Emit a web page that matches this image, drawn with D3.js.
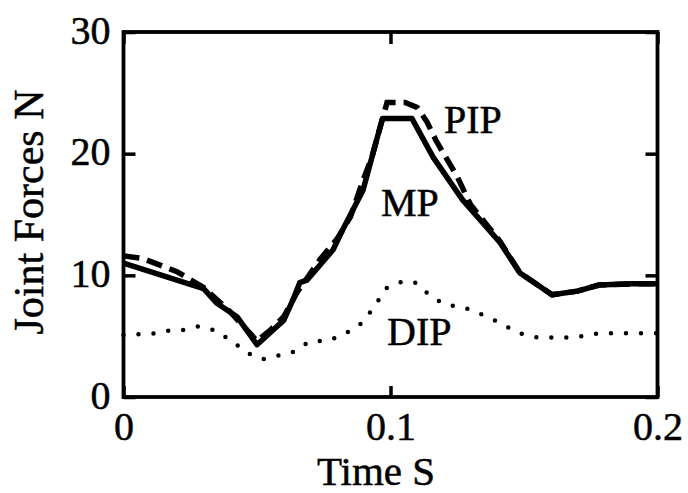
<!DOCTYPE html>
<html>
<head>
<meta charset="utf-8">
<script src="https://cdn.jsdelivr.net/npm/d3@7/dist/d3.min.js"></script>
<style>
  body { margin: 0; background: #fff; }
  svg { display: block; font-family: "Liberation Serif", "Times New Roman", serif; }
  text { stroke: #000; stroke-width: 0.5px; }
</style>
</head>
<body>
<div id="chart"></div>
<script>
const WIDTH = 688, HEIGHT = 493;
const margin = {top: 32, right: 30.5, bottom: 96, left: 123.5};

// MP joint force (solid)
const mpTime  = [0, 0.01, 0.02, 0.03, 0.035, 0.0425, 0.05, 0.055, 0.06, 0.0635, 0.066, 0.0687, 0.0785, 0.082, 0.0897, 0.097, 0.108, 0.116, 0.127, 0.141, 0.1485, 0.1605, 0.17, 0.178, 0.19, 0.2];
const mpForce = [11.0, 10.3, 9.6, 8.9, 7.7, 6.6, 4.3, 5.3, 6.3, 8.0, 9.4, 9.6, 12.1, 13.7, 17.0, 22.9, 22.9, 19.7, 16.2, 12.7, 10.2, 8.4, 8.7, 9.2, 9.3, 9.3];

// PIP joint force (dashed)
const pipTime  = [0, 0.007, 0.02, 0.03, 0.04, 0.05, 0.055, 0.06, 0.065, 0.0736, 0.08, 0.085, 0.0897, 0.093, 0.0987, 0.1055, 0.11, 0.1137, 0.117, 0.125, 0.13, 0.141, 0.1485, 0.1605, 0.17, 0.178, 0.19, 0.2];
const pipForce = [11.6, 11.4, 10.3, 9.0, 7.0, 4.6, 5.5, 6.6, 8.6, 11.3, 13.0, 14.8, 17.8, 19.7, 24.2, 24.2, 23.8, 22.6, 21.1, 18.1, 15.8, 12.8, 10.2, 8.4, 8.7, 9.2, 9.3, 9.3];

// DIP joint force (dotted)
const dipTime  = [0, 0.011, 0.017, 0.022, 0.028, 0.034, 0.041, 0.046, 0.052, 0.057, 0.063, 0.07, 0.076, 0.081, 0.088, 0.094, 0.098, 0.104, 0.109, 0.114, 0.12, 0.127, 0.134, 0.141, 0.148, 0.155, 0.166, 0.172, 0.178, 0.2];
const dipForce = [5.1, 5.2, 5.45, 5.5, 5.8, 5.5, 4.55, 3.65, 3.1, 3.35, 3.65, 4.6, 4.6, 5.0, 5.8, 7.4, 8.9, 9.45, 9.45, 8.5, 7.6, 7.4, 6.8, 6.1, 5.25, 4.9, 4.9, 5.0, 5.25, 5.25];

const xTicks = [0, 0.1, 0.2];
const yTicks = [0, 10, 20, 30];

// curve labels, anchored in data units (left edge / baseline)
const labelNames = ["PIP", "MP", "DIP"];
const labelTime  = [0.12, 0.0964, 0.0987];
const labelForce = [21.7, 14.9, 4.3];

const w = WIDTH - margin.left - margin.right;
const h = HEIGHT - margin.top - margin.bottom;

let svg = d3.select("#chart")
    .append("svg")
    .attr("width", WIDTH)
    .attr("height", HEIGHT)
    .append("g")
    .attr("transform", `translate(${margin.left}, ${margin.top})`);

let x = d3.scaleLinear().domain([0, 0.2]).range([0, w]);
let y = d3.scaleLinear().domain([0, 30]).range([h, 0]);

let line = d3.line()
    .x(function(d) { return x(d[0]); })
    .y(function(d) { return y(d[1]); });

function pairs(ts, vs) { return ts.map(function(t, i) { return [t, vs[i]]; }); }

// curves
svg.append("path")
    .datum(pairs(pipTime, pipForce))
    .attr("d", line)
    .attr("fill", "none")
    .attr("stroke", "#000")
    .attr("stroke-width", 5.5)
    .attr("stroke-dasharray", "16 8");

svg.append("path")
    .datum(pairs(mpTime, mpForce))
    .attr("d", line)
    .attr("fill", "none")
    .attr("stroke", "#000")
    .attr("stroke-width", 5.5)
    .attr("stroke-linejoin", "round");

svg.append("path")
    .datum(pairs(dipTime, dipForce))
    .attr("d", line)
    .attr("fill", "none")
    .attr("stroke", "#000")
    .attr("stroke-width", 4.5)
    .attr("stroke-linecap", "round")
    .attr("stroke-dasharray", "0 15");

// axes with inward ticks on all four sides
function styleAxis(g) {
    g.select(".domain").remove();
    g.selectAll(".tick line").attr("stroke", "#000").attr("stroke-width", 3.5);
    g.selectAll(".tick text").attr("fill", "#000").style("font-size", "40px")
        .style("font-family", "'Liberation Serif', 'Times New Roman', serif");
}

svg.append("g")
    .call(d3.axisLeft(y).tickValues(yTicks).tickFormat(d3.format("d")).tickSize(-12).tickPadding(13))
    .call(styleAxis)
    .selectAll(".tick text").attr("dy", "0.28em");

svg.append("g")
    .attr("transform", `translate(${w}, 0)`)
    .call(d3.axisRight(y).tickValues(yTicks).tickSize(-12).tickFormat(""))
    .call(styleAxis);

svg.append("g")
    .attr("transform", `translate(0, ${h})`)
    .call(d3.axisBottom(x).tickValues(xTicks).tickFormat(function(d) { return d === 0 ? "0" : d3.format(".1f")(d); }).tickSize(-11).tickPadding(13))
    .call(styleAxis)
    .selectAll(".tick text").attr("y", 42.5).attr("dy", 0);

svg.append("g")
    .call(d3.axisTop(x).tickValues(xTicks).tickSize(-12).tickFormat(""))
    .call(styleAxis);

// frame
svg.append("rect")
    .attr("x", 0).attr("y", 0)
    .attr("width", w).attr("height", h)
    .attr("fill", "none")
    .attr("stroke", "#000")
    .attr("stroke-width", 3.8);

// curve labels
svg.selectAll(".curve-label")
    .data(labelNames)
    .enter()
    .append("text")
    .attr("class", "curve-label")
    .attr("x", function(d, i) { return x(labelTime[i]); })
    .attr("y", function(d, i) { return y(labelForce[i]); })
    .style("font-size", "40px")
    .text(function(d) { return d; });

// axis titles
svg.append("text")
    .attr("transform", `translate(${376 - margin.left}, ${484.5 - margin.top})`)
    .style("text-anchor", "middle")
    .style("font-size", "41px")
    .text("Time S");

svg.append("text")
    .attr("transform", `translate(${43 - margin.left}, ${212 - margin.top}) rotate(-90)`)
    .style("text-anchor", "middle")
    .style("font-size", "42px")
    .text("Joint Forces N");
</script>
</body>
</html>
